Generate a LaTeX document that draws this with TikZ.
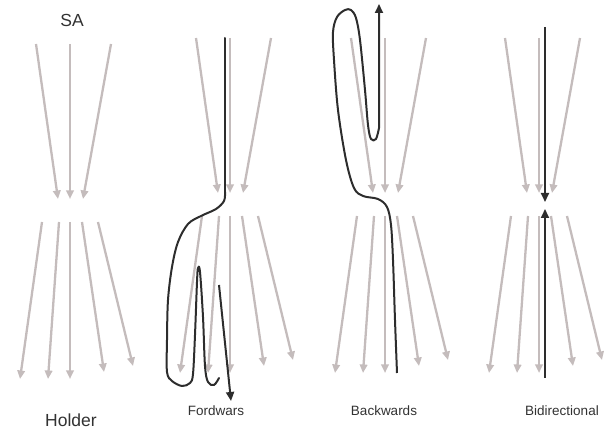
\documentclass[tikz,border=0pt]{standalone}
\usepackage{fontspec}
\setmainfont{Liberation Sans}
\usetikzlibrary{arrows.meta}
\definecolor{greyc}{RGB}{196,188,188}
\definecolor{darkc}{RGB}{45,45,45}
\definecolor{textc}{RGB}{50,50,50}
\tikzset{
  ga/.style={draw=greyc, line width=2.3pt, -{Triangle[length=8.5pt,width=7.5pt]}},
  pathline/.style={draw=darkc, line width=2pt, line cap=round, line join=round},
  darrow/.style={draw=darkc, line width=2pt, -{Triangle[length=9pt,width=8pt]}},
  bigtxt/.style={text=textc, inner sep=0pt, font=\fontsize{17.5}{20}\selectfont},
  smalltxt/.style={text=textc, inner sep=0pt, font=\fontsize{13.5}{16}\selectfont}
}
\begin{document}
\begin{tikzpicture}[x=1pt,y=-1pt]
\useasboundingbox (0,0) rectangle (611,430);
% grey arrow fans
\foreach \p/\cx/\dy in {1/70/6, 2/230/0, 3/385/0, 4/539/0} {
  \begin{scope}[shift={(\cx,\dy)}]
    \foreach \n/\sx/\sy/\ex/\ey in {t1/-34/38/-12/193, t2/0/38/0/193, t3/41/38/13/193,
        b1/-28/216/-50/373, b2/-11/216/-22/373, b3/0/216/0/373, b4/12/216/34/366, b5/28/216/63/360} {
      \coordinate (s\p\n) at (\sx,\sy);
      \coordinate (e\p\n) at (\ex,\ey);
      \draw[ga] (s\p\n) -- (e\p\n);
    }
  \end{scope}
}
% labels
\node[bigtxt] (sa) at (72,20) {SA};
\node[bigtxt] (holder) at (71,420) {Holder};
\node[smalltxt] (fordwars) at (216,411) {Fordwars};
\node[smalltxt] (backwards) at (384,411) {Backwards};
\node[smalltxt] (bidir) at (562,411) {Bidirectional};
% Fordwars path
\draw[pathline] (225,38) -- (225,192);
\draw[pathline] plot[smooth, tension=0.55] coordinates {(225,192) (224,201) (216,209) (201,216) (188,224) (178,242) (172,267) (168,300) (167,340) (167,372) (172,381) (182,386) (190,383) (193,374) (195,335) (197,282) (198,268) (200,272) (203,317) (205,366) (208,382) (214,385) (219,378)};
\coordinate (fa1) at (219,285);
\coordinate (fa2) at (231,401);
\draw[darrow] (fa1) -- (fa2);
% Backwards path
\coordinate (ba2) at (379,4);
\draw[pathline, line cap=butt, -{Triangle[length=9pt,width=8pt]}] plot[smooth, tension=0.55] coordinates {(397,373) (395,320) (393,260) (391,225) (387,207) (378,199) (363,196) (354,188) (346,160) (338,110) (334,60) (333,32) (337,17) (345,10) (351,10) (356,18) (360,40) (365,90) (368,125) (371,139) (376,139) (379,128)} -- (ba2);
% Bidirectional arrows
\coordinate (d1) at (545,27);
\coordinate (d2) at (545,202);
\coordinate (d3) at (545,378);
\coordinate (d4) at (545,209);
\draw[darrow] (d1) -- (d2);
\draw[darrow] (d3) -- (d4);
\end{tikzpicture}
\end{document}
